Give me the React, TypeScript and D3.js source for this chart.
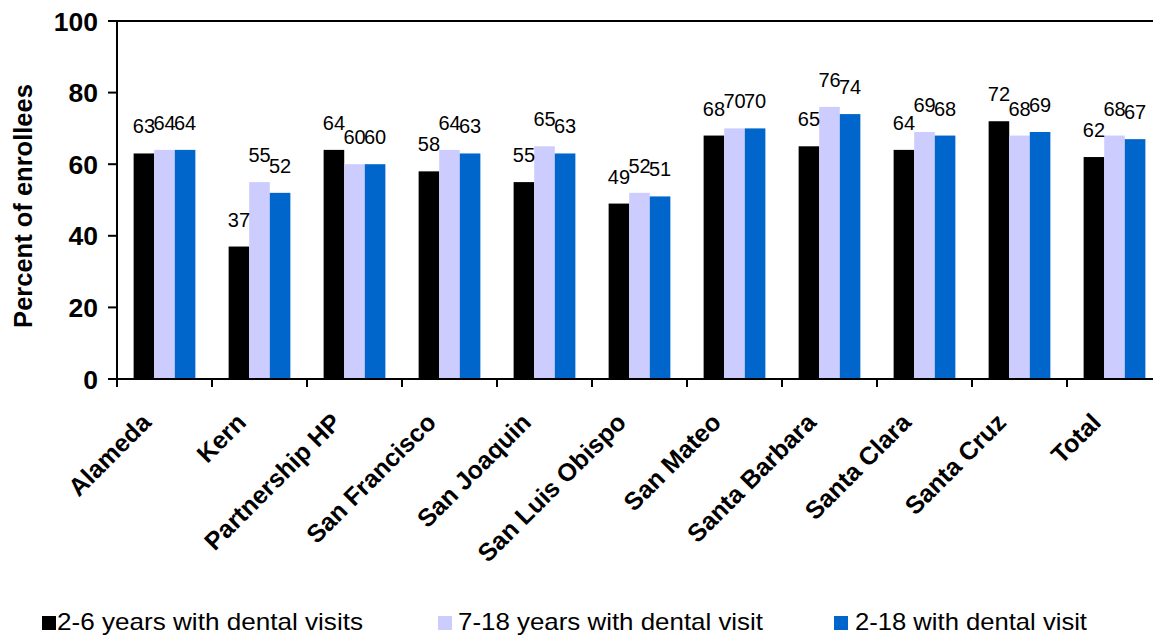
import React from "react";
import * as d3 from "d3";

const categories = [
  "Alameda",
  "Kern",
  "Partnership HP",
  "San Francisco",
  "San Joaquin",
  "San Luis Obispo",
  "San Mateo",
  "Santa Barbara",
  "Santa Clara",
  "Santa Cruz",
  "Total",
];

const seriesNames = [
  "2-6 years with dental visits",
  "7-18 years with dental visit",
  "2-18 with dental visit",
];

const ages2to6 = [63, 37, 64, 58, 55, 49, 68, 65, 64, 72, 62];
const ages7to18 = [64, 55, 60, 64, 65, 52, 70, 76, 69, 68, 68];
const ages2to18 = [64, 52, 60, 63, 63, 51, 70, 74, 68, 69, 67];

const seriesValues = [ages2to6, ages7to18, ages2to18];
const seriesColors = ["#000000", "#CCCCFF", "#0066CC"];

const yTicks = [0, 20, 40, 60, 80, 100];

const FONT = "Arial, 'Liberation Sans', sans-serif";

const W = 1153;
const H = 639;
const plot = { left: 117, right: 1162, top: 21, bottom: 379 };

// legend swatch x, text x and text width for each entry
const legendItems = [
  { sq: 42, tx: 57, len: 306 },
  { sq: 438, tx: 458, len: 305 },
  { sq: 834, tx: 855, len: 232 },
];

export default function App() {
  const x0 = d3
    .scaleBand<string>()
    .domain(categories)
    .range([plot.left, plot.right])
    .paddingInner(0.35)
    .paddingOuter(0.175);
  const step = x0.step();
  const x1 = d3
    .scaleBand<string>()
    .domain(seriesNames)
    .range([0, x0.bandwidth()]);
  const y = d3.scaleLinear().domain([0, 100]).range([plot.bottom, plot.top]);

  const boundaries = d3.range(categories.length + 1).map((i) => plot.left + i * step);

  return (
    <svg
      width={W}
      height={H}
      style={{ position: "absolute", left: 0, top: 0, background: "#fff" }}
      fontFamily={FONT}
    >
      <rect x={0} y={0} width={W} height={H} fill="#fff" />

      {/* bars */}
      {categories.map((c, ci) => (
        <g key={c} transform={`translate(${x0(c)},0)`}>
          {seriesNames.map((s, si) => {
            const v = seriesValues[si][ci];
            return (
              <rect
                key={s}
                x={x1(s)}
                y={y(v)}
                width={x1.bandwidth()}
                height={y(0) - y(v)}
                fill={seriesColors[si]}
              />
            );
          })}
        </g>
      ))}

      {/* value labels */}
      {categories.map((c, ci) => (
        <g key={c + "-lbl"} transform={`translate(${x0(c)},0)`}>
          {seriesNames.map((s, si) => {
            const v = seriesValues[si][ci];
            return (
              <text
                key={s}
                x={(x1(s) as number) + x1.bandwidth() / 2}
                y={y(v) - 20}
                textAnchor="middle"
                fontSize={20}
                fill="#000"
              >
                {v}
              </text>
            );
          })}
        </g>
      ))}

      {/* plot frame */}
      <line x1={plot.left} x2={plot.right} y1={plot.top} y2={plot.top} stroke="#000" strokeWidth={2} />
      <line x1={plot.right} x2={plot.right} y1={plot.top} y2={plot.bottom} stroke="#000" strokeWidth={2} />

      {/* y axis */}
      <line x1={plot.left} x2={plot.left} y1={plot.top} y2={plot.bottom} stroke="#000" strokeWidth={2} />
      {yTicks.map((t) => (
        <g key={t}>
          <line x1={plot.left - 9} x2={plot.left} y1={y(t)} y2={y(t)} stroke="#000" strokeWidth={2} />
          <text
            x={plot.left - 19}
            y={y(t)}
            dy="0.36em"
            textAnchor="end"
            fontSize={26.5}
            fontWeight="bold"
          >
            {t}
          </text>
        </g>
      ))}
      <text
        transform={`translate(32,${(plot.top + plot.bottom) / 2 + 6}) rotate(-90)`}
        textAnchor="middle"
        fontSize={25.5}
        fontWeight="bold"
      >
        Percent of enrollees
      </text>

      {/* x axis */}
      <line x1={plot.left} x2={plot.right} y1={plot.bottom} y2={plot.bottom} stroke="#000" strokeWidth={2} />
      {boundaries.map((bx, i) => (
        <line key={i} x1={bx} x2={bx} y1={plot.bottom} y2={plot.bottom + 8} stroke="#000" strokeWidth={2} />
      ))}
      {categories.map((c) => {
        const cx = (x0(c) as number) + x0.bandwidth() / 2 - 12;
        return (
          <text
            key={c + "-x"}
            transform={`translate(${cx},${plot.bottom + 45}) rotate(-45)`}
            textAnchor="end"
            fontSize={25}
            fontWeight="bold"
          >
            {c}
          </text>
        );
      })}

      {/* legend */}
      {seriesNames.map((s, si) => (
        <g key={s + "-leg"}>
          <rect x={legendItems[si].sq} y={616} width={14} height={14} fill={seriesColors[si]} />
          <text
            x={legendItems[si].tx}
            y={630}
            fontSize={24}
            fill="#000"
            textLength={legendItems[si].len}
            lengthAdjust="spacingAndGlyphs"
          >
            {s}
          </text>
        </g>
      ))}
    </svg>
  );
}
